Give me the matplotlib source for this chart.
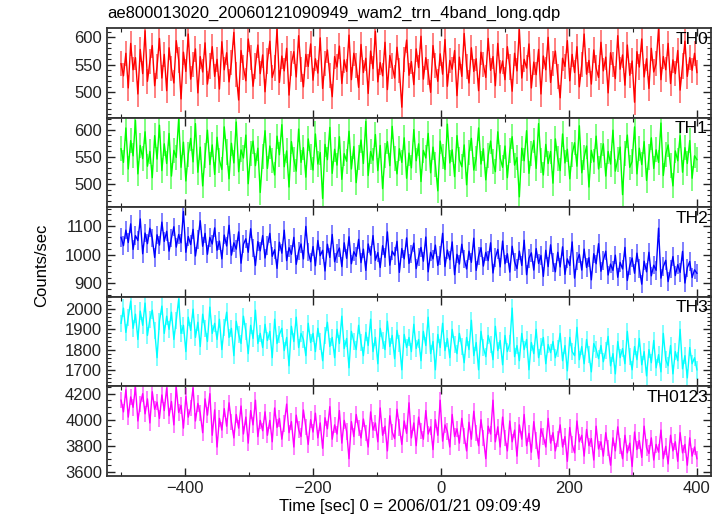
import matplotlib
matplotlib.use('Agg')
import matplotlib.pyplot as plt
from matplotlib.ticker import MultipleLocator
import numpy as np

plt.rcParams['font.family'] = ['Liberation Sans', 'DejaVu Sans']

# light curves, counts/sec (coarse)
th0 = [552, 530, 571, 508, 589, 541, 563, 497, 578, 534, 612, 520, 556, 585, 512, 547, 598, 526, 569, 503,
       581, 543, 517, 594, 559, 488, 573, 538, 606, 524, 551, 579, 499, 565, 537, 590, 515, 548, 583, 529,
       560, 506, 592, 541, 572, 519, 554, 609, 532, 486, 576, 545, 521, 597, 563, 511, 548, 586, 534, 568,
       501, 557, 593, 527, 544, 615, 518, 566, 539, 580, 495, 552, 574, 528, 603, 541, 510, 569, 547, 588,
       522, 561, 535, 599, 507, 553, 577, 530, 492, 565, 546, 584, 516, 559, 538, 604, 523, 571, 549, 509,
       587, 536, 562, 498, 575, 543, 611, 519, 554, 530, 591, 505, 567, 548, 526, 582, 540, 473, 560, 595,
       531, 556, 514, 579, 545, 602, 524, 563, 537, 500, 585, 549, 520, 570, 533, 596, 511, 558, 542, 576,
       494, 564, 529, 607, 547, 517, 581, 538, 561, 503, 573, 551, 527, 598, 540, 565, 512, 589, 535, 557,
       523, 583, 546, 502, 571, 539, 614, 526, 560, 544, 588, 508, 555, 532, 578, 497, 566, 541, 600, 518,
       553, 575, 529, 490, 562, 547, 594, 521, 569, 536, 583, 510, 550, 606, 533, 558, 515, 577, 544, 527,
       591, 539, 564, 499, 572, 550, 525, 603, 542, 568, 513, 586, 531, 557, 482, 574, 546, 597, 528, 561,
       507, 580, 537, 552, 616, 523, 565, 541, 589, 516, 559, 534, 576, 504, 548, 593, 529, 563, 540, 571,
       536]
th1 = [565, 540, 603, 528, 580, 552, 617, 519, 571, 547, 596, 533, 560, 512, 589, 546, 608, 525, 574, 538,
       593, 515, 562, 549, 620, 531, 577, 506, 555, 584, 541, 611, 522, 568, 497, 552, 599, 536, 572, 518,
       586, 544, 527, 605, 559, 510, 575, 539, 614, 523, 563, 548, 590, 501, 557, 579, 534, 566, 485, 551,
       598, 529, 570, 543, 517, 588, 554, 609, 532, 561, 495, 578, 546, 524, 601, 540, 567, 513, 583, 550,
       526, 592, 537, 558, 474, 573, 545, 604, 520, 564, 535, 587, 509, 556, 542, 597, 528, 569, 503, 549,
       581, 538, 615, 516, 560, 544, 591, 525, 571, 492, 553, 578, 534, 606, 547, 519, 565, 540, 585, 511,
       557, 530, 600, 543, 574, 505, 562, 548, 593, 521, 568, 536, 488, 579, 551, 527, 610, 539, 563, 514,
       589, 545, 532, 572, 499, 558, 584, 526, 547, 603, 537, 565, 508, 552, 579, 541, 523, 596, 548, 531,
       570, 512, 561, 587, 535, 549, 477, 566, 543, 598, 520, 556, 580, 529, 611, 544, 517, 573, 538, 560,
       502, 583, 547, 525, 592, 539, 564, 510, 555, 576, 533, 607, 521, 549, 570, 495, 562, 541, 588, 528,
       553, 574, 515, 560, 537, 599, 524, 546, 568, 481, 557, 590, 531, 542, 605, 519, 566, 536, 578, 507,
       550, 585, 529, 563, 540, 612, 516, 555, 572, 534, 497, 561, 543, 589, 522, 567, 538, 580, 511, 552,
       545]
th2 = [1060, 1031, 1085, 1042, 1107, 1018, 1066, 1049, 1124, 1003, 1075, 1038, 1092, 1057, 990, 1069, 1033, 1113, 1046, 1081,
       1012, 1058, 1097, 1026, 1070, 1041, 1150, 1008, 1063, 1035, 1088, 995, 1052, 1118, 1029, 1074, 1001, 1060, 1037, 1093,
       1015, 1047, 985, 1068, 1030, 1102, 998, 1041, 1019, 1079, 970, 1036, 1055, 1008, 1090, 1022, 962, 1045, 1013, 1066,
       988, 1031, 1074, 994, 1017, 952, 1043, 1005, 1085, 979, 1024, 1001, 1060, 966, 1012, 1037, 985, 1098, 1009, 975,
       1028, 961, 1049, 996, 1015, 943, 1036, 990, 1070, 975, 1004, 1023, 958, 1041, 987, 1062, 968, 1010, 994, 1053,
       972, 1019, 945, 1037, 998, 1066, 980, 1007, 955, 1031, 990, 1079, 963, 1012, 996, 1046, 938, 1021, 985, 1058,
       969, 1003, 1040, 951, 992, 1025, 977, 1061, 940, 1008, 985, 1033, 962, 997, 1074, 958, 1016, 982, 1044, 930,
       1001, 967, 1036, 984, 950, 1012, 973, 1057, 945, 995, 1024, 960, 1008, 979, 1041, 936, 990, 1018, 957, 1047,
       968, 1003, 939, 1029, 975, 951, 1012, 962, 1050, 930, 987, 1006, 946, 1021, 969, 997, 924, 1015, 958, 1034,
       973, 940, 1008, 957, 1027, 931, 985, 962, 1044, 918, 978, 1001, 946, 1019, 955, 989, 912, 1003, 968, 1038,
       942, 980, 1012, 929, 967, 945, 998, 921, 973, 950, 1025, 910, 961, 988, 935, 1005, 952, 897, 977, 940,
       1008, 926, 963, 945, 1092, 918, 958, 980, 906, 949, 993, 927, 965, 938, 1011, 901, 954, 976, 920, 947,
       935]
th3 = [1930, 2005, 1885, 1960, 2040, 1905, 1975, 1850, 1990, 1920, 2030, 1870, 1950, 1995, 1895, 1760, 1940, 2015, 1880, 1965,
       1900, 1985, 1850, 1945, 2050, 1880, 1920, 1790, 1960, 1895, 2000, 1860, 1935, 1815, 1975, 1905, 1840, 2010, 1880, 1930,
       1850, 1950, 1800, 1910, 1985, 1860, 1905, 1770, 1940, 1875, 1830, 1965, 1890, 1780, 1920, 1855, 1995, 1830, 1880, 1810,
       1925, 1845, 1890, 1760, 1950, 1830, 1875, 1905, 1795, 1860, 1720, 1915, 1840, 1960, 1810, 1880, 1850, 1770, 1930, 1835,
       1880, 1790, 1905, 1840, 1745, 1870, 1935, 1815, 1860, 1760, 1900, 1830, 1965, 1805, 1855, 1710, 1890, 1840, 1800, 1920,
       1835, 1770, 1885, 1820, 1950, 1790, 1860, 1730, 1905, 1845, 1800, 1940, 1815, 1870, 1755, 1895, 1830, 1700, 1875, 1810,
       1860, 1790, 1925, 1805, 1850, 1745, 1890, 1820, 1960, 1780, 1840, 1700, 1875, 1810, 1930, 1795, 1855, 1760, 1900, 1825,
       1780, 1880, 1815, 1735, 1860, 1800, 1945, 1770, 1835, 1700, 1890, 1810, 1765, 1870, 1825, 1750, 1915, 1795, 1845, 1725,
       1870, 1790, 1830, 2005, 1765, 1820, 1745, 1880, 1800, 1850, 1700, 1835, 1780, 1900, 1760, 1815, 1860, 1730, 1825, 1785,
       1840, 1760, 1805, 1880, 1745, 1820, 1695, 1860, 1790, 1770, 1910, 1750, 1815, 1730, 1850, 1775, 1690, 1830, 1800, 1755,
       1820, 1740, 1795, 1865, 1720, 1780, 1680, 1840, 1760, 1805, 1730, 1890, 1765, 1700, 1815, 1750, 1855, 1725, 1790, 1670,
       1800, 1735, 1845, 1710, 1775, 1690, 1880, 1750, 1720, 1820, 1680, 1790, 1745, 1900, 1705, 1770, 1660, 1810, 1730, 1760,
       1700]
th0123 = [4150, 4060, 4230, 4020, 4175, 4095, 4250, 3990, 4120, 4200, 4045, 4160, 3975, 4215, 4080, 4135, 4010, 4190, 4070, 4245,
          4030, 4140, 3960, 4250, 4055, 4110, 3935, 4180, 4020, 4090, 4245, 3990, 4125, 4050, 3900, 4160, 4035, 4200, 3880, 4075,
          3790, 4010, 3920, 4085, 3950, 4130, 3980, 3860, 4040, 3935, 4105, 3890, 4020, 3820, 4070, 3960, 4150, 3870, 3995, 3915,
          4060, 3880, 3995, 3830, 4090, 3940, 4010, 3850, 3970, 4120, 3900, 3985, 3790, 4035, 3925, 3870, 4075, 3945, 3810, 4000,
          3905, 4050, 3860, 3975, 3780, 4015, 3930, 4100, 3850, 3960, 3890, 4070, 3820, 3995, 3910, 3700, 3985, 3870, 4040, 3935,
          3860, 4005, 3900, 3790, 4060, 3920, 3975, 3830, 4090, 3880, 3950, 3760, 4030, 3905, 3855, 4080, 3940, 3810, 3990, 3895,
          4130, 3860, 3975, 3800, 4020, 3915, 3850, 4070, 3890, 3945, 3770, 4000, 3880, 4150, 3835, 3960, 3910, 3790, 4040, 3870,
          3930, 3820, 4010, 3875, 3760, 3980, 3850, 4065, 3900, 3800, 4000, 3860, 3700, 3950, 3890, 4150, 3830, 3945, 3790, 4020,
          3860, 3760, 3990, 3830, 3920, 3720, 3960, 3850, 4040, 3800, 3895, 3750, 3985, 3840, 3700, 3930, 3870, 3790, 4010, 3820,
          3900, 3760, 3850, 3960, 3790, 3870, 3680, 3940, 3810, 3745, 3990, 3830, 3880, 3720, 3925, 3800, 3855, 3690, 3950, 3775,
          3830, 3720, 3900, 3780, 3650, 3860, 3760, 3945, 3800, 3700, 3880, 3745, 3820, 3640, 3905, 3770, 3840, 3710, 3950, 3785,
          3740, 3860, 3690, 3810, 3750, 3920, 3700, 3795, 3660, 3880, 3760, 3830, 3680, 3900, 3745, 3810, 3650, 3860, 3720, 3790,
          3700]

names = ['TH0', 'TH1', 'TH2', 'TH3', 'TH0123']
series = [th0, th1, th2, th3, th0123]
errs = [23, 23, 32, 43, 63]
colors = ['#ff0000', '#00ff00', '#0000ff', '#00ffff', '#ff00ff']
ylims = [(454, 617), (458, 622), (853, 1165), (1618, 2061), (3567, 4256)]
ymajor = [50, 50, 100, 100, 200]
yminor = [10, 10, 20, 20, 50]
t_start, t_stop = -500, 400

fig = plt.figure(figsize=(7.24, 5.16), dpi=100)
left, right = 107 / 724, 711 / 724
bottom, top = 1 - 476 / 516, 1 - 28 / 516
h = (top - bottom) / 5

for i in range(5):
    ax = fig.add_axes([left, top - (i + 1) * h, right - left, h])
    y = np.array(series[i])
    t = np.linspace(t_start, t_stop, len(y))
    ax.errorbar(t, y, yerr=errs[i], fmt='none', ecolor=colors[i], alpha=0.5, elinewidth=1.4)
    ax.plot(t, y, color=colors[i], lw=1.0)
    ax.set_xlim(-522, 422)
    ax.set_ylim(*ylims[i])
    ax.xaxis.set_major_locator(MultipleLocator(200))
    ax.xaxis.set_minor_locator(MultipleLocator(100))
    ax.yaxis.set_major_locator(MultipleLocator(ymajor[i]))
    ax.yaxis.set_minor_locator(MultipleLocator(yminor[i]))
    ax.tick_params(which='both', direction='in', top=True, right=True, labelsize=12, colors='#222222')
    ax.tick_params(which='major', length=6, width=1)
    ax.tick_params(which='minor', length=3, width=0.8)
    for sp in ax.spines.values():
        sp.set_linewidth(1.3)
        sp.set_color('#333333')
    if i < 4:
        ax.tick_params(labelbottom=False)
    ax.text(0.995, 0.96, names[i], transform=ax.transAxes, ha='right', va='top', fontsize=12.5)

fig.text(left + 0.001, 1 - 13 / 516, 'ae800013020_20060121090949_wam2_trn_4band_long.qdp',
         ha='left', va='center', fontsize=12)
fig.text(42 / 724, 0.5 - 0.015, 'Counts/sec', rotation=90, ha='center', va='center', fontsize=12)
fig.text(410 / 724, 1 - 507 / 516, 'Time [sec] 0 = 2006/01/21 09:09:49', ha='center', va='center', fontsize=12)

fig.savefig('out.png', dpi=100)
